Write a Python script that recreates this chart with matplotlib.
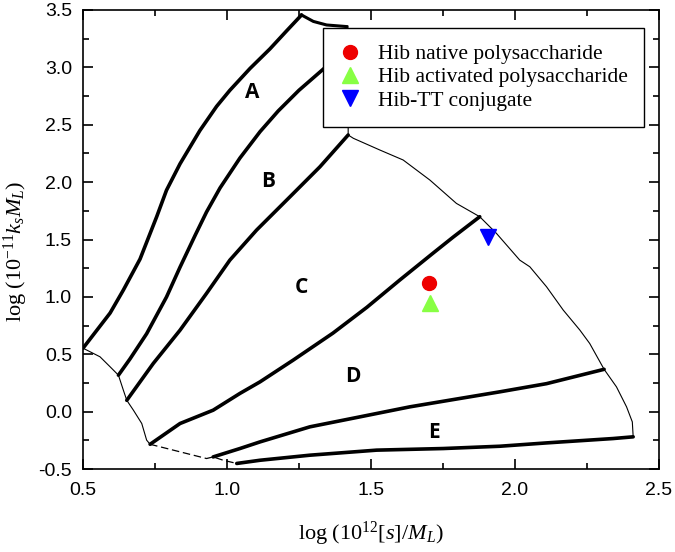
"""Conformation zone plot (log ks*ML vs log [s]/ML) for Hib samples."""

import matplotlib.pyplot as plt
from matplotlib.ticker import MultipleLocator

plt.rcParams["mathtext.fontset"] = "custom"
plt.rcParams["mathtext.rm"] = "Liberation Serif"
plt.rcParams["mathtext.it"] = "Liberation Serif:italic"
plt.rcParams["axes.unicode_minus"] = False

# zone boundaries (thick lines)
line_a_x = [0.50, 0.594, 0.640, 0.698, 0.756, 0.790, 0.837, 0.906, 0.964, 1.010, 1.080, 1.149, 1.208, 1.259]
line_a_y = [0.554, 0.86, 1.06, 1.33, 1.70, 1.93, 2.16, 2.45, 2.66, 2.80, 2.99, 3.16, 3.32, 3.456]
line_b_x = [0.623, 0.663, 0.721, 0.790, 0.837, 0.890, 0.929, 0.976, 1.045, 1.115, 1.178, 1.250, 1.36]
line_b_y = [0.319, 0.46, 0.68, 1.00, 1.26, 1.54, 1.74, 1.95, 2.21, 2.44, 2.62, 2.80, 3.04]
line_c_x = [0.652, 0.744, 0.837, 0.929, 1.010, 1.103, 1.219, 1.323, 1.421]
line_c_y = [0.10, 0.421, 0.711, 1.031, 1.321, 1.583, 1.873, 2.134, 2.411]
line_d_x = [0.733, 0.837, 0.952, 1.045, 1.115, 1.230, 1.368, 1.486, 1.600, 1.715, 1.785, 1.878]
line_d_y = [-0.283, -0.102, 0.014, 0.160, 0.261, 0.45, 0.685, 0.91, 1.147, 1.38, 1.52, 1.699]
line_e_x = [0.952, 1.045, 1.115, 1.288, 1.462, 1.635, 1.809, 1.948, 2.110, 2.310]
line_e_y = [-0.393, -0.320, -0.262, -0.131, -0.044, 0.043, 0.116, 0.174, 0.245, 0.370]
line_f_x = [1.034, 1.115, 1.288, 1.520, 1.751, 1.948, 2.110, 2.341, 2.411]
line_f_y = [-0.45, -0.422, -0.378, -0.334, -0.32, -0.30, -0.271, -0.233, -0.218]

# outer envelope (thin lines)
left_x = [0.50, 0.559, 0.594, 0.623, 0.640, 0.652, 0.675, 0.704, 0.721, 0.733]
left_y = [0.554, 0.479, 0.392, 0.319, 0.189, 0.10, 0.014, -0.102, -0.247, -0.283]
bottom_x = [0.733, 0.929, 0.952, 0.987, 1.034]
bottom_y = [-0.283, -0.407, -0.393, -0.422, -0.45]
right_x = [2.411, 2.408, 2.388, 2.353, 2.310, 2.260, 2.226, 2.168, 2.110, 2.052, 2.017,
           1.936, 1.878, 1.797, 1.705, 1.612, 1.531, 1.439, 1.421, 1.421, 1.420]
right_y = [-0.218, -0.088, 0.043, 0.217, 0.370, 0.595, 0.711, 0.886, 1.089, 1.263, 1.321,
           1.554, 1.699, 1.815, 2.018, 2.193, 2.28, 2.382, 2.411, 2.9, 3.355]
top_x = [1.259, 1.30, 1.346, 1.416]
top_y = [3.456, 3.40, 3.369, 3.355]

zone_labels = ["A", "B", "C", "D", "E"]
zone_x = [1.087, 1.142, 1.26, 1.437, 1.72]
zone_y = [2.785, 2.01, 1.086, 0.31, -0.18]

samples = ["Hib native polysaccharide", "Hib activated polysaccharide", "Hib-TT conjugate"]
sample_x = [1.703, 1.705, 1.907]
sample_y = [1.118, 0.944, 1.524]
sample_markers = ["o", "^", "v"]
sample_sizes = [10, 11, 11]
sample_colors = ["#ee0000", "#88ff44", "#0000ff"]

fig = plt.figure(figsize=(6.75, 5.52), dpi=100)
ax = fig.add_axes([0.123, 0.150, 0.853, 0.832])

for xs, ys in [(line_a_x, line_a_y), (line_b_x, line_b_y), (line_c_x, line_c_y),
               (line_d_x, line_d_y), (line_e_x, line_e_y), (line_f_x, line_f_y)]:
    ax.plot(xs, ys, color="black", linewidth=2.6, solid_capstyle="round", solid_joinstyle="round")

ax.plot(left_x, left_y, color="black", linewidth=0.8)
ax.plot(bottom_x, bottom_y, color="black", linewidth=0.9, linestyle=(0, (6, 3)))
ax.plot(right_x, right_y, color="black", linewidth=0.8)
ax.plot(top_x, top_y, color="black", linewidth=2.2)

for label, x, y in zip(zone_labels, zone_x, zone_y):
    ax.text(x, y, label, fontsize=15, fontweight="bold", family="Open Sans",
            ha="center", va="center")

for name, x, y, m, s, c in zip(samples, sample_x, sample_y, sample_markers, sample_sizes, sample_colors):
    ax.plot([x], [y], linestyle="none", marker=m, markersize=s, color=c, label=name)

leg = ax.legend(loc="upper left", bbox_to_anchor=(0.417, 0.961), borderaxespad=0, frameon=True,
                fancybox=False, framealpha=1, edgecolor="black", borderpad=0.75,
                handlelength=1.0, handletextpad=0.8, labelspacing=0.15,
                prop={"family": "Liberation Serif", "size": 15.5})
leg.get_frame().set_linewidth(1.0)
leg.set_zorder(10)

ax.set_xlim(0.5, 2.5)
ax.set_ylim(-0.5, 3.5)
ax.xaxis.set_major_locator(MultipleLocator(0.5))
ax.xaxis.set_minor_locator(MultipleLocator(0.25))
ax.yaxis.set_major_locator(MultipleLocator(0.5))
ax.yaxis.set_minor_locator(MultipleLocator(0.25))
ax.tick_params(which="both", direction="in", top=True, right=True, width=1.2)
ax.tick_params(which="major", length=7, labelsize=14)
ax.tick_params(which="minor", length=4)
ax.tick_params(axis="x", which="major", pad=9)
ax.tick_params(axis="y", which="major", pad=8)
for lab in ax.get_xticklabels() + ax.get_yticklabels():
    lab.set_family("Liberation Sans")
for spine in ax.spines.values():
    spine.set_linewidth(1.2)

ax.set_xlabel(r"log (10$^{12}$$[s]/M_L$)", fontsize=16, family="Liberation Serif")
ax.set_ylabel(r"log (10$^{-11}$$k_sM_L$)", fontsize=16, family="Liberation Serif")
ax.xaxis.set_label_coords(0.5, -0.11)
ax.yaxis.set_label_coords(-0.092, 0.475)

fig.savefig("out.png", dpi=100)
plt.close(fig)
